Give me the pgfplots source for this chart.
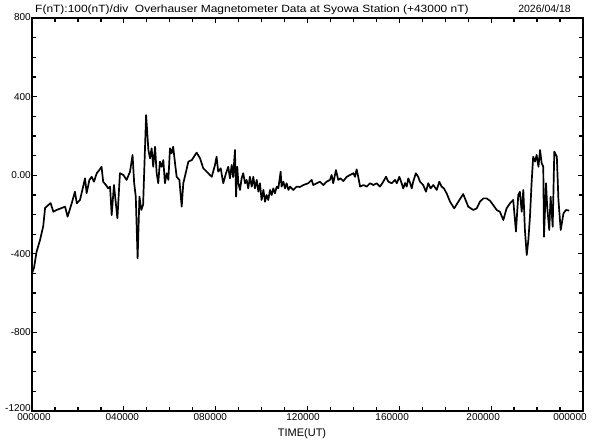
\documentclass[border=0pt]{standalone}
\usepackage{graphicx}
\usepackage{pgfplots}
\pgfplotsset{compat=1.18}
\usepackage{fontspec}
\setmainfont{Liberation Sans}
\newcommand\tl[2]{\hspace*{#1pt}\hspace*{#1pt}#2}
\begin{document}
\begin{tikzpicture}[x=1pt,y=1pt]
\useasboundingbox (0,0) rectangle (592,440);
\begin{axis}[
  at={(32pt,29pt)}, anchor=south west,
  scale only axis, width=551pt, height=393pt,
  xmin=0, xmax=24, ymin=-1200, ymax=800,
  xtick={0,4,8,12,16,20,24},
  xticklabels={\tl{2}{000000},\tl{-1.5}{040000},\tl{-5.4}{080000},\tl{-4.4}{120000},\tl{-7.2}{160000},\tl{-8}{200000},\tl{-13}{000000}},
  minor x tick num=3,
  ytick={-1200,-800,-400,0,400,800},
  yticklabels={\raisebox{6.5pt}{-1200},-800,-400,0.00,400,\raisebox{2pt}{800}},
  minor y tick num=3,
  tick align=inside,
  major tick length=5pt, minor tick length=4pt,
  every tick/.style={black, line width=1.3pt},
  axis line style={line width=1.8pt},
  /pgf/number format/assume math mode=true,
  ticklabel style={font=\fontsize{10}{11}\selectfont, inner sep=0.5pt},
  yticklabel style={xshift=-0.5pt},
  xticklabel style={yshift=-2pt},
  clip=true,
]
\addplot[black, line width=1.7pt, line join=round] coordinates {
(0,-500) (0.09,-470) (0.2,-389) (0.35,-330) (0.49,-259) (0.57,-167) (0.71,-152) (0.81,-142)
(0.93,-186) (1.07,-177) (1.25,-169) (1.44,-160) (1.55,-211) (1.73,-143) (1.87,-84) (1.95,-143)
(2.09,-126) (2.21,-67) (2.31,-16) (2.38,-91) (2.5,-24) (2.6,-8) (2.7,-33) (2.82,10) (2.93,26)
(3.03,43) (3.1,-33) (3.22,-50) (3.32,-67) (3.40,-58) (3.47,-203) (3.57,-50) (3.72,-220) (3.83,10)
(3.98,1) (4.12,-24) (4.27,18) (4.38,103) (4.45,-40) (4.52,-109) (4.6,-423) (4.68,-109) (4.76,-177)
(4.84,-150) (4.97,306) (5.07,128) (5.14,86) (5.21,137) (5.28,43) (5.36,145) (5.43,10) (5.5,-41)
(5.57,69) (5.65,43) (5.72,77) (5.79,-41) (5.87,10) (5.94,-24) (6.01,137) (6.08,111) (6.15,145)
(6.23,61) (6.3,-8) (6.42,-24) (6.52,-160) (6.59,-41) (6.71,18) (6.81,69) (6.96,77) (7.17,115)
(7.32,86) (7.46,35) (7.61,18) (7.75,1) (7.83,-8) (7.97,52) (8.04,94) (8.11,18) (8.22,35) (8.33,-41)
(8.45,10) (8.55,43) (8.62,-16) (8.7,52) (8.76,-10) (8.84,128) (8.89,-109) (8.94,43) (8.99,-41)
(9.06,-75) (9.13,-16) (9.2,10) (9.28,-41) (9.35,-24) (9.42,-67) (9.49,-8) (9.57,-58) (9.64,-8)
(9.71,-67) (9.79,-24) (9.86,-84) (9.93,-41) (10.0,-126) (10.08,-75) (10.15,-135) (10.22,-101)
(10.29,-126) (10.37,-75) (10.44,-101) (10.51,-67) (10.58,-92) (10.66,-58) (10.73,-67) (10.83,18)
(10.87,-58) (10.95,-33) (11.02,-67) (11.09,-41) (11.17,-75) (11.24,-58) (11.38,-75) (11.53,-58)
(11.67,-60) (11.82,-50) (12.03,-41) (12.18,-24) (12.25,-50) (12.4,-41) (12.54,-33) (12.69,-50)
(12.83,-33) (12.98,-24) (13.05,1) (13.12,-41) (13.24,26) (13.34,-24) (13.44,-16) (13.56,-30)
(13.71,-8) (13.85,1) (14.0,10) (14.07,-8) (14.14,30) (14.21,-8) (14.29,-58) (14.44,-50) (14.58,-58)
(14.72,-41) (14.87,-50) (15.01,-41) (15.16,-58) (15.3,-33) (15.42,-8) (15.52,-33) (15.67,-41)
(15.81,-24) (15.89,-41) (16.0,-8) (16.1,-41) (16.17,-67) (16.25,-40) (16.32,-58) (16.39,-16)
(16.47,-40) (16.54,-67) (16.61,-30) (16.72,10) (16.82,-8) (16.9,-33) (17.04,-50) (17.16,-84)
(17.26,-41) (17.36,-67) (17.48,-50) (17.63,-75) (17.74,-33) (17.84,-58) (17.94,-67) (18.06,-92)
(18.21,-135) (18.39,-169) (18.57,-135) (18.78,-96) (18.9,-130) (19.0,-160) (19.22,-177) (19.37,-169)
(19.51,-135) (19.66,-118) (19.8,-118) (19.95,-130) (20.09,-152) (20.24,-177) (20.38,-186)
(20.53,-228) (20.67,-169) (20.82,-143) (20.96,-126) (21.08,-287) (21.18,-101) (21.25,-84)
(21.33,-186) (21.4,-75) (21.47,-279) (21.55,-406) (21.62,-330) (21.69,-211) (21.76,-41) (21.83,94)
(21.91,69) (21.98,103) (22.06,43) (22.13,128) (22.2,61) (22.27,43) (22.3,-313) (22.39,-41)
(22.44,-160) (22.53,-279) (22.59,-109) (22.68,-262) (22.75,120) (22.86,94) (22.93,-126)
(23.03,-279) (23.15,-194) (23.26,-177) (23.4,-180)
};
\end{axis}
\node[anchor=base west, font=\fontsize{10.5}{12}\selectfont, inner sep=0pt] at (35,427) {\scalebox{1.14}[1]{F(nT):100(nT)/div\ \ Overhauser Magnetometer Data at Syowa Station (+43000 nT)}};
\node[anchor=base east, font=\fontsize{10.5}{12}\selectfont, inner sep=0pt] at (571,427) {2026/04/18};
\node[anchor=base, font=\fontsize{11}{12}\selectfont, inner sep=0pt] at (302,4) {TIME(UT)};
\end{tikzpicture}
\end{document}
